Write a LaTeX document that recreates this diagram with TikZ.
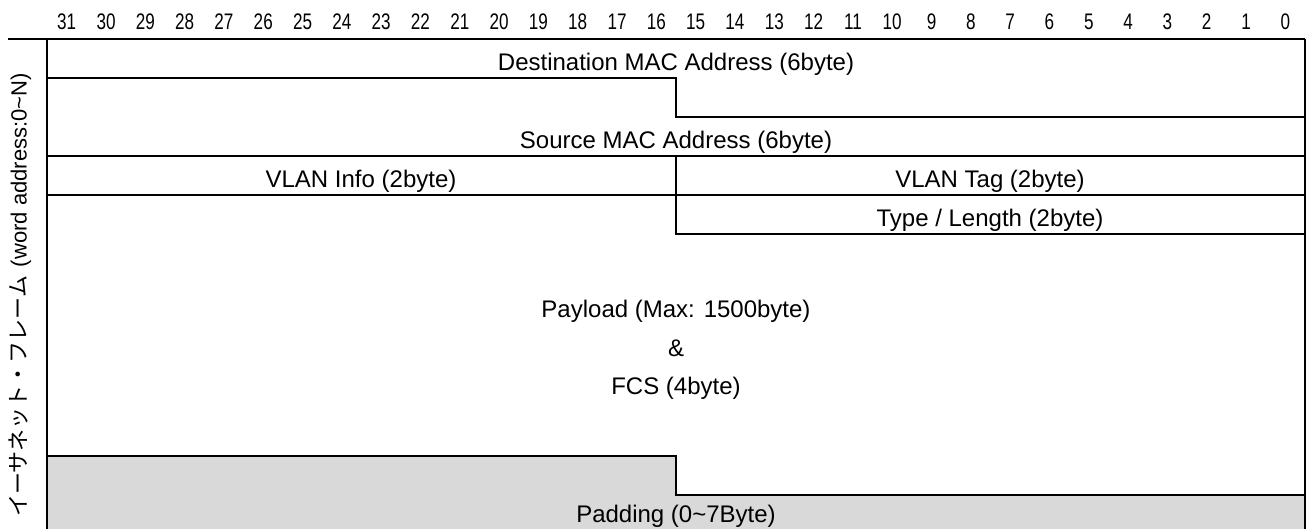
\documentclass[tikz,border=0pt]{standalone}
\usepackage{fontspec}
\setmainfont{Liberation Sans}
\newfontfamily\jpfont{Noto Sans CJK JP}
\newfontfamily\narrowfont[FakeStretch=0.76]{Liberation Sans}
\definecolor{padgray}{HTML}{D9D9D9}
\begin{document}
\begin{tikzpicture}[x=1pt,y=-1pt,
	field/.style={font=\fontsize{24}{28}\selectfont, inner sep=0pt, anchor=base},
	bitnum/.style={font=\narrowfont\fontsize{22.5}{26}\selectfont, inner sep=0pt, anchor=base},
	rule/.style={line width=1.4pt}]
	\useasboundingbox (0,0) rectangle (1309,529);
	% padding area
	\fill[padgray] (47,456) -- (676,456) -- (676,495) -- (1305,495) -- (1305,529) -- (47,529) -- cycle;
	% bit numbers
	\foreach \b in {0,...,31}
		\node[bitnum] (bit\b) at ({66.7+39.31*(31-\b)},30) {\b};
	% frame
	\draw[rule] (8,39) -- (1305,39);
	\draw[rule] (47,39) -- (47,529);
	\draw[line width=2pt] (1305,39) -- (1305,529);
	\draw[rule] (47,78) -- (676,78) -- (676,117) -- (1305,117);
	\draw[rule] (47,156) -- (1305,156);
	\draw[rule] (676,156) -- (676,195);
	\draw[rule] (47,195) -- (1305,195);
	\draw[rule] (676,195) -- (676,234) -- (1305,234);
	\draw[rule] (47,456) -- (676,456) -- (676,495) -- (1305,495);
	% fields
	\node[field] (dstmac) at (676,71) {Destination MAC Address (6byte)};
	\node[field] (srcmac) at (676,149) {Source MAC Address (6byte)};
	\node[field] (vinfo) at (361,188) {VLAN Info (2byte)};
	\node[field] (vtag) at (990,188) {VLAN Tag (2byte)};
	\node[field] (type) at (990,227) {Type / Length (2byte)};
	\node[field] (payload) at (676,318) {Payload (Max: 1500byte)};
	\node[field] (amp) at (676,356) {\&};
	\node[field] (fcs) at (676,394) {FCS (4byte)};
	\node[field] (pad) at (676,522) {Padding (0\textasciitilde7Byte)};
	% side label
	\node[font=\fontsize{22}{26}\selectfont, inner sep=0pt, rotate=90] (side) at (20,295)
		{{\jpfont イーサネット・フレーム}\hspace{0.4em}(word address:0\textasciitilde N)};
\end{tikzpicture}
\end{document}
